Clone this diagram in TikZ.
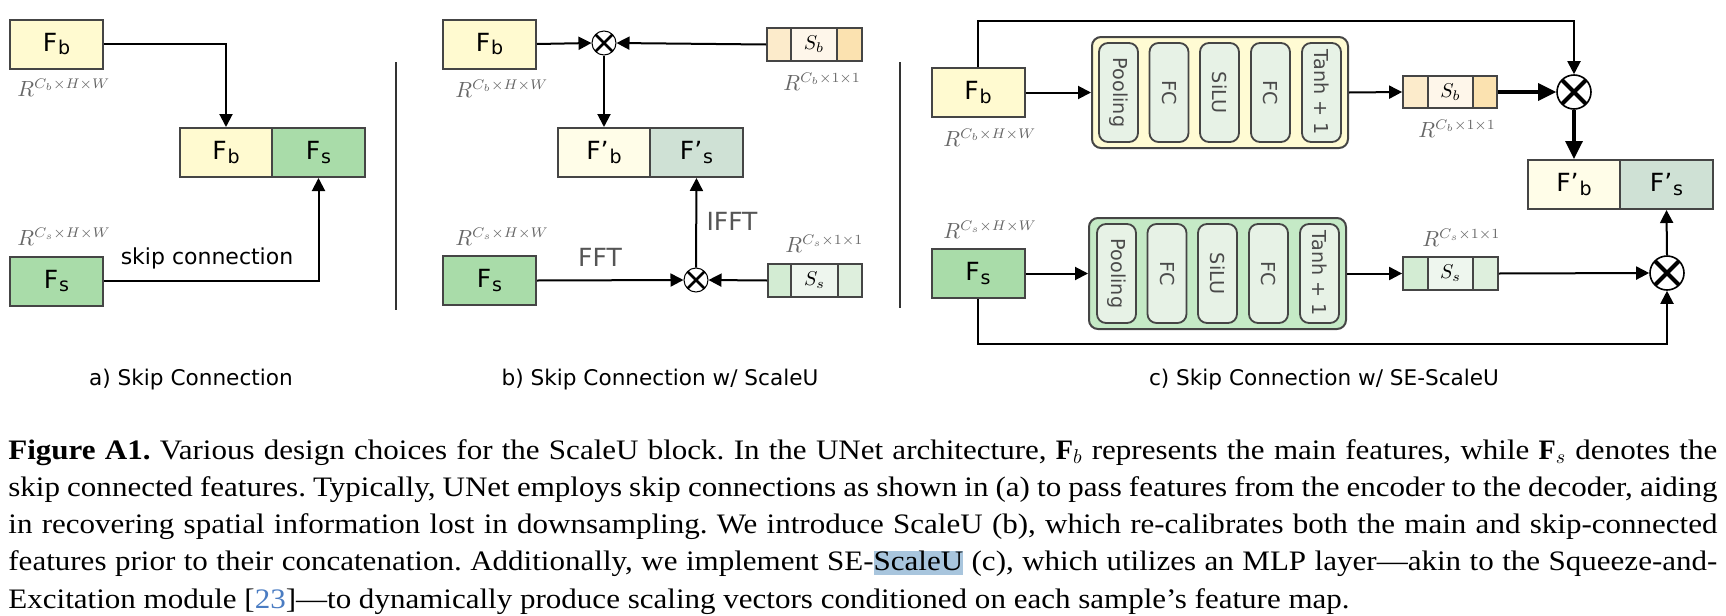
\documentclass[tikz,border=0pt]{standalone}
\usepackage{fontspec}
\setmainfont{Liberation Serif}
\newfontfamily\capfont[FakeStretch=1.1]{Liberation Serif}
\newfontfamily\labfont{DejaVu Sans}
\usetikzlibrary{arrows.meta,calc}
\definecolor{bordc}{HTML}{454545}
\definecolor{fbc}{HTML}{FFFAD0}
\definecolor{fsc}{HTML}{A9DCA9}
\definecolor{fbpc}{HTML}{FFFDE8}
\definecolor{fspc}{HTML}{CFE1D5}
\definecolor{sbA}{HTML}{FCEBCB}
\definecolor{sbB}{HTML}{FEF6EA}
\definecolor{sbC}{HTML}{FBE2B0}
\definecolor{ssA}{HTML}{D3ECD3}
\definecolor{ssB}{HTML}{EEF6EE}
\definecolor{ssC}{HTML}{DEEFDD}
\definecolor{ycont}{HTML}{FFFBD3}
\definecolor{gcont}{HTML}{C5EAC6}
\definecolor{pillc}{HTML}{E7F2E6}
\definecolor{graytxt}{HTML}{555555}
\definecolor{pilltxt}{HTML}{4A4A4A}
\definecolor{rlab}{HTML}{666666}
\definecolor{citec}{HTML}{4A7CC2}
\definecolor{hlc}{HTML}{A8C5DD}
\definecolor{sepc}{HTML}{333333}
\newcommand\Fl[2]{#1\kern0.5pt{\fontsize{9.5}{10}\selectfont\raisebox{-1.8pt}{#2}}}
\begin{document}
\begin{tikzpicture}[x=0.5pt,y=-0.5pt,
  fbox/.style={draw=bordc, line width=1pt, inner sep=0, minimum width=46.5pt, minimum height=24.5pt, font=\labfont\fontsize{12.5}{14}\selectfont},
  cell/.style={draw=bordc, line width=0.9pt, inner sep=0, minimum height=16.5pt},
  cont/.style={draw=bordc, line width=1pt, rounded corners=4.5pt, inner sep=0, minimum width=128pt, minimum height=55.5pt},
  pill/.style={draw=bordc, fill=pillc, line width=0.9pt, rounded corners=4.5pt, inner sep=0, minimum width=19.5pt, minimum height=49.5pt, font=\labfont\fontsize{9.6}{10}\selectfont, text=pilltxt},
  multS/.style={circle, draw=black, fill=white, line width=0.5pt, inner sep=0, minimum size=12pt,
     path picture={\draw[line width=1.3pt] (path picture bounding box.north west) -- (path picture bounding box.south east)
       (path picture bounding box.north east) -- (path picture bounding box.south west);}},
  multL/.style={circle, draw=black, fill=white, line width=0.8pt, inner sep=0, minimum size=17pt,
     path picture={\draw[line width=2pt] (path picture bounding box.north west) -- (path picture bounding box.south east)
       (path picture bounding box.north east) -- (path picture bounding box.south west);}},
  arr/.style={-{Triangle[length=6.5pt,width=6.5pt]}, line width=1pt},
  tarr/.style={-{Triangle[length=9pt,width=8.5pt]}, line width=1.7pt},
  rl/.style={anchor=base west, inner sep=0, text=rlab, font=\fontsize{10.5}{12}\selectfont},
  gl/.style={inner sep=0, text=graytxt, font=\labfont\fontsize{12.5}{14}\selectfont},
  sub/.style={inner sep=0, anchor=base, font=\labfont\fontsize{10.8}{12}\selectfont},
  capl/.style={inner sep=0, anchor=base west, font=\capfont\fontsize{14.1}{18}\selectfont},
  sep/.style={draw=sepc, line width=0.9pt}
]
\useasboundingbox (0,0) rectangle (1726,616);

% ---------------- panel a
\node[fbox, fill=fbc] (afb) at (56.5,44) {\Fl{F}{b}};
\node[fbox, fill=fsc] (afs) at (56.5,281) {\Fl{F}{s}};
\node[fbox, fill=fbc, minimum width=46pt] (acb) at (226,152.5) {\Fl{F}{b}};
\node[fbox, fill=fsc] (acs) at (318.5,152.5) {\Fl{F}{s}};
\node[rl] (arb) at (17,96) {$R^{C_b\times H\times W}$};
\node[rl] (ars) at (17,245) {$R^{C_s\times H\times W}$};
\draw[arr] (afb.east) -| (acb.north);
\draw[arr] (afs.east) -| (acs.south);
\node[inner sep=0, font=\labfont\fontsize{11}{12}\selectfont] (askip) at (207,258) {skip connection};
\coordinate (s1a) at (396,62); \coordinate (s1b) at (396,310);
\draw[sep] (s1a) -- (s1b);

% ---------------- panel b
\node[fbox, fill=fbc] (bfb) at (489.5,44) {\Fl{F}{b}};
\node[fbox, fill=fsc] (bfs) at (489.5,280.5) {\Fl{F}{s}};
\node[fbox, fill=fbpc, minimum width=46pt] (bcb) at (604,152.5) {\Fl{F’}{b}};
\node[fbox, fill=fspc] (bcs) at (696.5,152.5) {\Fl{F’}{s}};
\node[multS] (bm1) at (604,43) {};
\node[multS] (bm2) at (696,280) {};
\node[cell, fill=sbA, minimum width=12pt] (bsb1) at (779,44.5) {};
\node[cell, fill=sbB, minimum width=23pt] (bsb2) at (814,44.5) {$S_b$};
\node[cell, fill=sbC, minimum width=12.5pt] (bsb3) at (849.5,44.5) {};
\node[cell, fill=ssA, minimum width=11.5pt] (bss1) at (779.5,280.5) {};
\node[cell, fill=ssB, minimum width=23.5pt] (bss2) at (814.5,280.5) {$S_s$};
\node[cell, fill=ssC, minimum width=12pt] (bss3) at (850,280.5) {};
\node[rl] (brb) at (455,97) {$R^{C_b\times H\times W}$};
\node[rl] (brs) at (455,245) {$R^{C_s\times H\times W}$};
\node[rl] (brb1) at (783,90) {$R^{C_b\times 1\times 1}$};
\node[rl] (brs1) at (785,252) {$R^{C_s\times 1\times 1}$};
\draw[arr] (bfb.east) -- (bm1.west);
\draw[arr] (bsb1.west) -- (bm1.east);
\draw[arr] (bm1.south) -- (bcb.north);
\draw[arr] (bfs.east) -- (bm2.west);
\draw[arr] (bss1.west) -- (bm2.east);
\draw[arr] (bm2.north) -- (bcs.south);
\node[gl] (bfft) at (600,257) {FFT};
\node[gl] (bifft) at (732,221) {IFFT};
\coordinate (s2a) at (900,62); \coordinate (s2b) at (900,308);
\draw[sep] (s2a) -- (s2b);

% ---------------- panel c
\node[fbox, fill=fbc] (cfb) at (978,92.5) {\Fl{F}{b}};
\node[fbox, fill=fsc] (cfs) at (978,273.5) {\Fl{F}{s}};
\node[fbox, fill=fbpc, minimum width=46pt] (ccb) at (1574,184.5) {\Fl{F’}{b}};
\node[fbox, fill=fspc] (ccs) at (1666.5,184.5) {\Fl{F’}{s}};
\node[cont, fill=ycont] (cyb) at (1220,92.5) {};
\node[cont, fill=gcont, minimum width=128.5pt] (cgb) at (1217.5,273.5) {};
\foreach \n/\t/\xx in {1/Pooling/1118.5, 2/FC/1169, 3/SiLU/1219.5, 4/FC/1270.5, 5/Tanh + 1/1321.5}{
  \node[pill] (cyp\n) at (\xx,92.5) {\rotatebox{-90}{\t}};
}
\foreach \n/\t/\xx in {1/Pooling/1116.5, 2/FC/1167, 3/SiLU/1217.5, 4/FC/1268.5, 5/Tanh + 1/1319.5}{
  \node[pill] (cgp\n) at (\xx,273.5) {\rotatebox{-90}{\t}};
}
\node[cell, fill=sbA, minimum width=12.5pt, minimum height=16pt] (csb1) at (1415.5,92) {};
\node[cell, fill=sbB, minimum width=22.5pt, minimum height=16pt] (csb2) at (1450.5,92) {$S_b$};
\node[cell, fill=sbC, minimum width=12pt, minimum height=16pt] (csb3) at (1485,92) {};
\node[cell, fill=ssA, minimum width=12.5pt] (css1) at (1415.5,273.5) {};
\node[cell, fill=ssB, minimum width=22.5pt] (css2) at (1450.5,273.5) {$S_s$};
\node[cell, fill=ssC, minimum width=12.5pt] (css3) at (1485.5,273.5) {};
\node[multL] (cm1) at (1574,92) {};
\node[multL] (cm2) at (1667,273) {};
\node[rl] (crb) at (943,146) {$R^{C_b\times H\times W}$};
\node[rl] (crs) at (943,238) {$R^{C_s\times H\times W}$};
\node[rl] (crb1) at (1418,137) {$R^{C_b\times 1\times 1}$};
\node[rl] (crs1) at (1422,246) {$R^{C_s\times 1\times 1}$};
\coordinate (ctop) at (1574,21);
\coordinate (cbot) at (1667,344);
\draw[arr] (cfb.east) -- (cyb.west);
\draw[arr] (cyb.east) -- (csb1.west);
\draw[tarr] (csb3.east) -- (cm1.west);
\draw[arr] (cfb.north) |- (ctop) -- (cm1.north);
\draw[tarr] (cm1.south) -- (ccb.north);
\draw[arr] (cfs.east) -- (cgb.west);
\draw[arr] (cgb.east) -- (css1.west);
\draw[arr] (css3.east) -- (cm2.west);
\draw[arr] (cfs.south) |- (cbot) -- (cm2.south);
\draw[arr] (cm2.north) -- (ccs.south);

% ---------------- sub-captions
\node[sub] (capa) at (191,385) {a) Skip Connection};
\node[sub] (capb) at (660,385) {b) Skip Connection w/ ScaleU};
\node[sub] (capc) at (1324,385) {c) Skip Connection w/ SE-ScaleU};

% ---------------- figure caption
\setlength\fboxsep{0pt}
\node[capl] (l1) at (8,459) {\frenchspacing\makebox[854.5pt][s]{\textbf{Figure A1.} Various design choices for the ScaleU block. In the UNet architecture, $\mathbf{F}_b$ represents the main features, while $\mathbf{F}_s$ denotes the}};
\node[capl] (l2) at (8,496.25) {\frenchspacing\makebox[854.5pt][s]{skip connected features. Typically, UNet employs skip connections as shown in (a) to pass features from the encoder to the decoder, aiding}};
\node[capl] (l3) at (8,533.5) {\frenchspacing\makebox[854.5pt][s]{in recovering spatial information lost in downsampling. We introduce ScaleU (b), which re-calibrates both the main and skip-connected}};
\node[capl] (l4) at (8,570.75) {\frenchspacing\makebox[854.5pt][s]{features prior to their concatenation. Additionally, we implement SE-\colorbox{hlc}{\rule[-2pt]{0pt}{11.5pt}ScaleU} (c), which utilizes an MLP layer—akin to the Squeeze-and-}};
\node[capl] (l5) at (8,608) {\frenchspacing Excitation module [\textcolor{citec}{23}]—to dynamically produce scaling vectors conditioned on each sample’s feature map.};
\end{tikzpicture}
\end{document}
